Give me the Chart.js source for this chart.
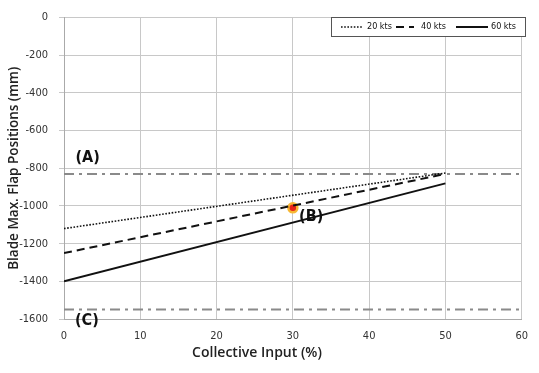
<!DOCTYPE html>
<html>
<head>
<meta charset="utf-8">
<script src="https://cdn.jsdelivr.net/npm/chart.js@4/dist/chart.umd.min.js"></script>
<style>
  html, body { margin: 0; padding: 0; background: #fff; }
  #wrap { width: 539px; height: 373px; position: relative; }
</style>
</head>
<body>
<div id="wrap"><canvas id="flapChart"></canvas></div>
<script>
// collective input (%) at the two ends of each speed line
var collective = [0, 50];
var flap20kts = [-1120, -825];
var flap40kts = [-1250, -830];
var flap60kts = [-1400, -880];

// reference limits (A) and (C), drawn across the whole axis
var limitSpan = [0, 60];
var limitA = [-830, -830];
var limitC = [-1550, -1550];

// operating point (B)
var pointB = [{ x: 30, y: -1010 }];

// text marks, in data units
var markLabels = ['(A)', '(B)', '(C)'];
var markX = [3.1, 32.4, 3.0];
var markY = [-745, -1060, -1612];

var xTicks = [0, 10, 20, 30, 40, 50, 60];
var yTicks = [0, -200, -400, -600, -800, -1000, -1200, -1400, -1600];

function pairs(xs, ys) {
    return xs.map(function (x, i) { return { x: x, y: ys[i] }; });
}

var tickFont = { family: '"Liberation Sans Narrow", "DejaVu Sans Condensed"', size: 11 };

// legend box, point labels and x title
var extras = {
    id: 'extras',
    afterDraw: function (chart) {
        var ctx = chart.ctx;
        var xs = chart.scales.x, ys = chart.scales.y;
        ctx.save();

        // (A) (B) (C)
        ctx.fillStyle = '#111';
        ctx.font = 'bold 16px "DejaVu Sans Condensed", "DejaVu Sans"';
        ctx.textAlign = 'center';
        ctx.textBaseline = 'middle';
        markLabels.forEach(function (t, i) {
            ctx.fillText(t, xs.getPixelForValue(markX[i]), ys.getPixelForValue(markY[i]));
        });

        // x axis title
        ctx.font = '600 14px "Open Sans"';
        ctx.fillStyle = '#222';
        ctx.fillText('Collective Input (%)', 257, 353);

        // legend
        var bx = 331, by = 17, bw = 194, bh = 19;
        ctx.fillStyle = '#fff';
        ctx.fillRect(bx, by, bw, bh);
        ctx.strokeStyle = '#555';
        ctx.lineWidth = 1;
        ctx.strokeRect(bx + 0.5, by + 0.5, bw, bh);
        var items = [
            { ds: 0, x0: 341, x1: 362, tx: 367 },
            { ds: 1, x0: 396, x1: 414, tx: 421 },
            { ds: 2, x0: 456, x1: 488, tx: 491 }
        ];
        var ly = by + bh / 2 + 0.5;
        ctx.font = '9px "Liberation Sans Narrow", "DejaVu Sans Condensed"';
        ctx.textAlign = 'left';
        items.forEach(function (it) {
            var d = chart.data.datasets[it.ds];
            ctx.beginPath();
            ctx.setLineDash(d.borderDash || []);
            ctx.lineWidth = d.borderWidth;
            ctx.strokeStyle = d.borderColor;
            ctx.moveTo(it.x0, ly);
            ctx.lineTo(it.x1, ly);
            ctx.stroke();
            ctx.setLineDash([]);
            ctx.fillStyle = '#111';
            ctx.fillText(d.label, it.tx, ly);
        });
        ctx.restore();
    }
};

var ctx = document.getElementById('flapChart').getContext('2d');
var chart = new Chart(ctx, {
    type: 'scatter',
    data: {
        datasets: [{
            label: '20 kts',
            data: pairs(collective, flap20kts),
            showLine: true,
            borderColor: '#111',
            borderWidth: 1.6,
            borderDash: [1.6, 1.6],
            pointRadius: 0
        }, {
            label: '40 kts',
            data: pairs(collective, flap40kts),
            showLine: true,
            borderColor: '#111',
            borderWidth: 2,
            borderDash: [8, 5],
            pointRadius: 0
        }, {
            label: '60 kts',
            data: pairs(collective, flap60kts),
            showLine: true,
            borderColor: '#111',
            borderWidth: 2,
            pointRadius: 0
        }, {
            label: 'A',
            data: pairs(limitSpan, limitA),
            showLine: true,
            borderColor: '#8a8a8a',
            borderWidth: 2,
            borderDash: [10, 5, 3, 5],
            pointRadius: 0
        }, {
            label: 'C',
            data: pairs(limitSpan, limitC),
            showLine: true,
            borderColor: '#8a8a8a',
            borderWidth: 2,
            borderDash: [10, 5, 3, 5],
            pointRadius: 0
        }, {
            label: 'B',
            data: pointB,
            backgroundColor: '#e8231a',
            borderColor: '#f7b733',
            borderWidth: 2.5,
            pointRadius: 4.5
        }]
    },
    options: {
        responsive: true,
        maintainAspectRatio: false,
        animation: false,
        layout: { padding: { top: 13, right: 12, left: 0, bottom: 0 } },
        plugins: {
            legend: { display: false },
            tooltip: { enabled: false }
        },
        scales: {
            x: {
                type: 'linear',
                min: 0,
                max: 60,
                afterBuildTicks: function (s) { s.ticks = xTicks.map(function (v) { return { value: v }; }); },
                afterFit: function (s) { s.height = 54; },
                grid: { color: '#c8c8c8', drawTicks: false },
                border: { color: '#aaa' },
                ticks: { padding: 11, color: '#333', font: tickFont }
            },
            y: {
                min: -1600,
                max: 0,
                afterBuildTicks: function (s) { s.ticks = yTicks.map(function (v) { return { value: v }; }); },
                afterFit: function (s) { s.width = 64; },
                grid: { color: '#c8c8c8', tickLength: 5 },
                border: { color: '#aaa' },
                ticks: {
                    padding: 11,
                    color: '#333',
                    font: tickFont,
                    callback: function (v) { return String(v); }
                },
                title: {
                    display: true,
                    text: 'Blade Max. Flap Positions (mm)',
                    color: '#222',
                    font: { family: 'Open Sans', size: 13.5, weight: '600' },
                    padding: { top: 6, bottom: 0 }
                }
            }
        }
    },
    plugins: [extras]
});
</script>
</body>
</html>
